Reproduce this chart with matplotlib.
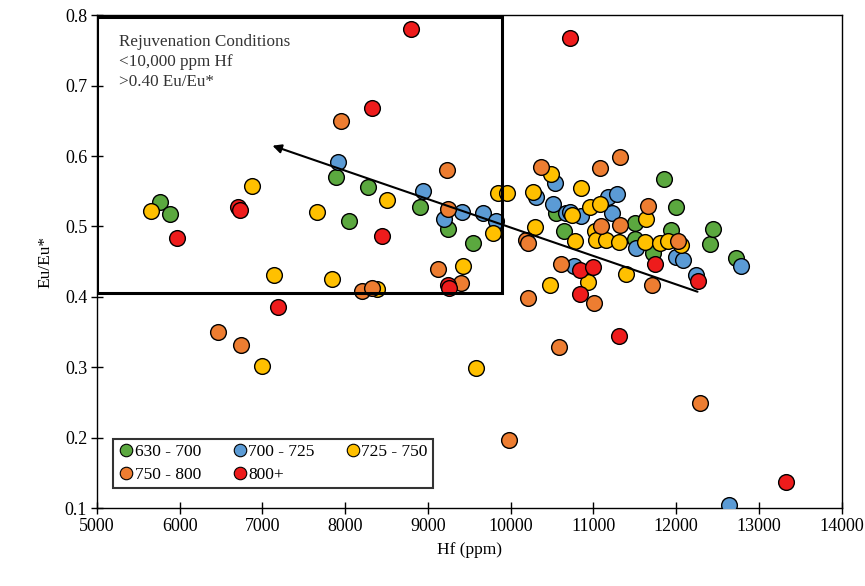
import matplotlib
matplotlib.use("Agg")
import matplotlib.pyplot as plt
from matplotlib.patches import Rectangle
from matplotlib.lines import Line2D

plt.rcParams['font.family'] = ['Liberation Serif', 'DejaVu Serif']

# Hf (ppm) and Eu/Eu* per temperature group
hf_630 = [5760, 5880, 7895, 8050, 8280, 8910, 9245, 9545, 10550, 10645, 11500, 11500,
          11720, 11850, 11940, 11995, 12405, 12445, 12720]
eu_630 = [0.535, 0.518, 0.570, 0.508, 0.556, 0.527, 0.496, 0.476, 0.519, 0.493, 0.505, 0.482,
          0.462, 0.568, 0.495, 0.528, 0.475, 0.496, 0.455]

hf_700 = [7915, 8935, 9190, 9415, 9665, 9820, 10310, 10510, 10540, 10675, 10715, 10855,
          10760, 11180, 11280, 11230, 11520, 12000, 12085, 12245, 12780, 12640]
eu_700 = [0.592, 0.550, 0.511, 0.520, 0.519, 0.508, 0.542, 0.532, 0.562, 0.519, 0.521, 0.515,
          0.444, 0.542, 0.546, 0.519, 0.469, 0.457, 0.453, 0.431, 0.444, 0.104]

hf_725 = [5660, 6870, 6990, 7140, 7665, 7845, 8380, 8500, 9425, 9585, 9785, 9850, 9950,
          10270, 10290, 10470, 10490, 10745, 10775, 10855, 10935, 10955, 11075, 11015,
          11035, 11155, 11310, 11390, 11620, 11640, 11800, 11900, 12060]
eu_725 = [0.522, 0.557, 0.302, 0.431, 0.521, 0.426, 0.411, 0.537, 0.444, 0.299, 0.491, 0.548, 0.548,
          0.549, 0.499, 0.417, 0.575, 0.516, 0.479, 0.555, 0.421, 0.528, 0.532, 0.493,
          0.481, 0.481, 0.478, 0.432, 0.478, 0.511, 0.476, 0.479, 0.474]

hf_750 = [6465, 6745, 7945, 8200, 8330, 9125, 9235, 9245, 9395, 9980, 10190, 10210, 10210,
          10370, 10585, 10610, 11005, 11075, 11090, 11320, 11320, 11660, 11710, 12020, 12290]
eu_750 = [0.350, 0.331, 0.650, 0.408, 0.412, 0.440, 0.580, 0.525, 0.420, 0.197, 0.481, 0.476, 0.399,
          0.585, 0.329, 0.447, 0.391, 0.583, 0.500, 0.599, 0.502, 0.529, 0.417, 0.480, 0.249]

hf_800 = [5970, 6705, 6725, 7190, 8320, 8440, 8790, 9240, 9260, 10720, 10840, 10835,
          10995, 11310, 11740, 12270, 13330]
eu_800 = [0.484, 0.528, 0.523, 0.386, 0.668, 0.487, 0.781, 0.417, 0.413, 0.767, 0.438, 0.404,
          0.443, 0.345, 0.446, 0.422, 0.137]

groups = [
    ("630 - 700", hf_630, eu_630, "#5ba83f"),
    ("700 - 725", hf_700, eu_700, "#5b9bd5"),
    ("725 - 750", hf_725, eu_725, "#ffc000"),
    ("750 - 800", hf_750, eu_750, "#ed7d31"),
    ("800+", hf_800, eu_800, "#ee1c1c"),
]

fig = plt.figure(figsize=(8.65, 5.86), dpi=100)
ax = fig.add_axes([0.112, 0.133, 0.861, 0.841])

for name, x, y, c in groups:
    ax.scatter(x, y, s=128, c=c, edgecolors="black", linewidths=1.0, zorder=3)

# rejuvenation window and trend arrow
ax.add_patch(Rectangle((5000, 0.406), 4900, 0.391, fill=False, lw=2.2,
                       edgecolor="black", zorder=4))
ax.annotate("", xy=(7090, 0.616), xytext=(12290, 0.406),
            arrowprops=dict(arrowstyle="-|>", color="black", lw=1.5,
                            mutation_scale=13), zorder=5)
ax.text(5270, 0.773, "Rejuvenation Conditions\n<10,000 ppm Hf\n>0.40 Eu/Eu*",
        fontsize=12.3, va="top", ha="left", linespacing=1.32, color="#333333")

ax.set_xlim(5000, 14000)
ax.set_ylim(0.1, 0.8)
ax.set_xticks(range(5000, 14001, 1000))
ax.set_yticks([0.1, 0.2, 0.3, 0.4, 0.5, 0.6, 0.7, 0.8])
ax.set_yticklabels(["0.1", "0.2", "0.3", "0.4", "0.5", "0.6", "0.7", "0.8"])
ax.tick_params(direction="inout", length=8, width=1, labelsize=13, pad=3)
for sp in ax.spines.values():
    sp.set_linewidth(1.0)
ax.set_xlabel("Hf (ppm)", fontsize=12.5, labelpad=5)
ax.set_ylabel("Eu/Eu*", fontsize=12.5, labelpad=8)

# legend filled row by row: 3 columns
handles = [Line2D([], [], marker="o", ls="", markersize=9, markerfacecolor=c,
                  markeredgecolor="black", markeredgewidth=0.8) for _, _, _, c in groups]
labels = [g[0] for g in groups]
order = [0, 3, 1, 4, 2]
leg = ax.legend([handles[i] for i in order], [labels[i] for i in order], ncol=3,
                loc="lower left", bbox_to_anchor=(0.021, 0.04), borderaxespad=0,
                frameon=True, fancybox=False, edgecolor="black", fontsize=12.5,
                handletextpad=0.0, columnspacing=1.7, handlelength=1.0,
                borderpad=0.3, labelspacing=0.4)
leg.get_frame().set_linewidth(1.5)

fig.savefig("out.png", dpi=100)
